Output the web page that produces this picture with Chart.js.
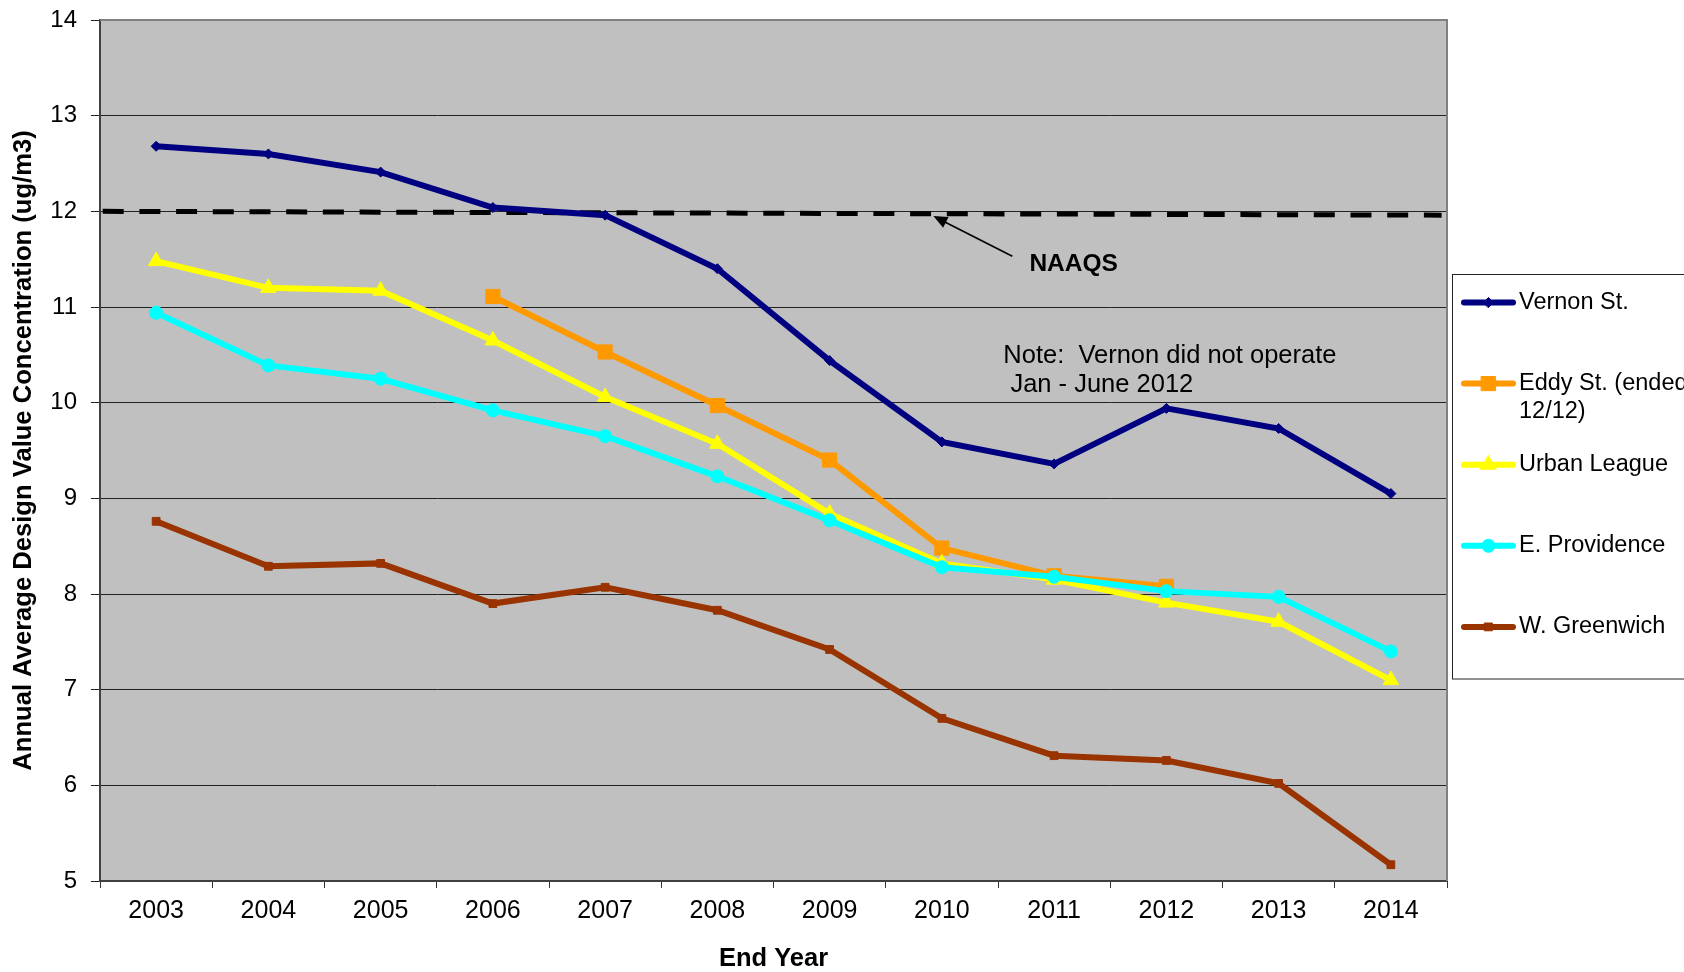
<!DOCTYPE html>
<html>
<head>
<meta charset="utf-8">
<title>Annual Average Design Value Concentration</title>
<script src="https://cdn.jsdelivr.net/npm/chart.js@4.4.1/dist/chart.umd.min.js"></script>
<style>
  html, body { margin: 0; padding: 0; background: #ffffff; }
  canvas { display: block; }
</style>
</head>
<body>
<canvas id="chart" width="1684" height="972"></canvas>
<script>
// ---- data -------------------------------------------------------------
const years = ['2003', '2004', '2005', '2006', '2007', '2008', '2009', '2010', '2011', '2012', '2013', '2014'];

const vernonSt    = [12.68, 12.60, 12.41, 12.04, 11.96, 11.40, 10.44, 9.59, 9.36, 9.94, 9.73, 9.05];
const eddySt      = [null, null, null, 11.11, 10.53, 9.97, 9.40, 8.48, 8.19, 8.08, null, null];
const urbanLeague = [11.48, 11.20, 11.17, 10.65, 10.06, 9.57, 8.84, 8.32, 8.15, 7.91, 7.71, 7.10];
const eProvidence = [10.94, 10.39, 10.25, 9.92, 9.65, 9.23, 8.77, 8.28, 8.18, 8.03, 7.97, 7.40];
const wGreenwich  = [8.76, 8.29, 8.32, 7.90, 8.07, 7.83, 7.42, 6.70, 6.31, 6.26, 6.02, 5.17];

// NAAQS standard line: level at its left and right ends
const naaqsLevels = [12.00, 11.96];

// value axis
const yMin = 5;
const yMax = 14;
const yStep = 1;

const seriesNames = ['Vernon St.', 'Eddy St. (ended 12/12)', 'Urban League', 'E. Providence', 'W. Greenwich'];

// ---- styling ----------------------------------------------------------
const FONT = "'Liberation Sans', Arial, Helvetica, sans-serif";

function series(label, data, color, pointStyle, radius, order) {
  return {
    label, data, order,
    borderColor: color,
    backgroundColor: color,
    pointBackgroundColor: color,
    pointBorderColor: color,
    pointStyle,
    pointRadius: radius,
    pointBorderWidth: 1,
    borderWidth: 6,
    tension: 0,
    fill: false,
    spanGaps: false
  };
}

const datasets = [
  series(seriesNames[0], vernonSt,    '#000080', 'rectRot',  5,   5),
  series(seriesNames[1], eddySt,      '#FF9900', 'rect',     10,  4),
  series(seriesNames[2], urbanLeague, '#FFFF00', 'triangle', 9,   3),
  series(seriesNames[3], eProvidence, '#00FFFF', 'circle',   6.5, 2),
  series(seriesNames[4], wGreenwich,  '#993300', 'rect',     5.5, 1),
  {
    label: 'NAAQS',
    data: [{ x: 0.002, y: naaqsLevels[0] }, { x: 0.996, y: naaqsLevels[1] }],
    xAxisID: 'x2',
    borderColor: '#000000',
    borderWidth: 5,
    borderDash: [21, 15.7],
    pointRadius: 0,
    tension: 0,
    fill: false,
    order: 10,
    isReference: true
  }
];

// ---- plugins ----------------------------------------------------------
const plotBackground = {
  id: 'plotBackground',
  beforeDraw(chart) {
    const { ctx, chartArea: a } = chart;
    ctx.save();
    ctx.fillStyle = '#ffffff';
    ctx.fillRect(0, 0, chart.width, chart.height);
    ctx.fillStyle = '#C0C0C0';
    ctx.fillRect(a.left, a.top, a.right - a.left, a.bottom - a.top);
    ctx.restore();
  },
  beforeDatasetsDraw(chart) {
    const { ctx, chartArea: a } = chart;
    ctx.save();
    ctx.strokeStyle = '#808080';
    ctx.lineWidth = 2;
    ctx.beginPath();
    ctx.moveTo(a.left, a.top);
    ctx.lineTo(a.right, a.top);
    ctx.lineTo(a.right, a.bottom);
    ctx.stroke();
    ctx.restore();
  }
};

// text notes and the pointer to the standard line
const notes = {
  id: 'notes',
  afterDatasetsDraw(chart) {
    const { ctx } = chart;
    const sx = chart.scales.x2, sy = chart.scales.y;
    const px = f => sx.getPixelForValue(f);
    const py = v => sy.getPixelForValue(v);
    ctx.save();

    // arrow pointing at the NAAQS line
    const tipX = px(0.6187), tipY = py(11.95);
    const tailX = px(0.6773), tailY = py(11.53);
    const ang = Math.atan2(tipY - tailY, tipX - tailX);
    const head = 14, half = 6;
    ctx.strokeStyle = '#000';
    ctx.fillStyle = '#000';
    ctx.lineWidth = 1.6;
    ctx.beginPath();
    ctx.moveTo(tailX, tailY);
    ctx.lineTo(tipX - Math.cos(ang) * head * 0.8, tipY - Math.sin(ang) * head * 0.8);
    ctx.stroke();
    ctx.beginPath();
    ctx.moveTo(tipX, tipY);
    ctx.lineTo(tipX - Math.cos(ang) * head - Math.sin(ang) * half, tipY - Math.sin(ang) * head + Math.cos(ang) * half);
    ctx.lineTo(tipX - Math.cos(ang) * head + Math.sin(ang) * half, tipY - Math.sin(ang) * head - Math.cos(ang) * half);
    ctx.closePath();
    ctx.fill();

    ctx.textBaseline = 'alphabetic';
    ctx.textAlign = 'left';
    ctx.font = 'bold 24.5px ' + FONT;
    ctx.fillText('NAAQS', px(0.69), py(11.38));

    ctx.font = '25.5px ' + FONT;
    ctx.fillText('Note:  Vernon did not operate', px(0.6706), py(10.418));
    ctx.fillText(' Jan - June 2012', px(0.6706), py(10.112));
    ctx.restore();
  }
};

// boxed legend on the right, built from the datasets
const sideLegend = {
  id: 'sideLegend',
  afterDraw(chart) {
    const { ctx } = chart;
    const boxLeft = 1452.5, boxTop = 274.5, boxBottom = 679;
    const firstY = 302.5, stepY = 81.1;
    const lineX0 = 1464, lineX1 = 1513, textX = 1519, wrapWidth = 200, lineGap = 28;
    ctx.save();
    ctx.fillStyle = '#ffffff';
    ctx.fillRect(boxLeft, boxTop, chart.width - boxLeft + 5, boxBottom - boxTop);
    ctx.strokeStyle = '#222';
    ctx.lineWidth = 1;
    ctx.strokeRect(boxLeft, boxTop, chart.width - boxLeft + 5, boxBottom - boxTop);

    ctx.font = '23.5px ' + FONT;
    ctx.textBaseline = 'middle';
    ctx.textAlign = 'left';
    let i = 0;
    chart.data.datasets.forEach(ds => {
      if (ds.isReference) return;
      const y = firstY + i * stepY;
      ctx.strokeStyle = ds.borderColor;
      ctx.lineWidth = 6;
      ctx.lineCap = 'round';
      ctx.beginPath();
      ctx.moveTo(lineX0, y);
      ctx.lineTo(lineX1, y);
      ctx.stroke();
      ctx.fillStyle = ds.pointBackgroundColor;
      ctx.strokeStyle = ds.pointBorderColor;
      ctx.lineWidth = 1;
      Chart.helpers.drawPoint(ctx, {
        pointStyle: ds.pointStyle, radius: ds.pointRadius, rotation: 0, borderWidth: 1
      }, (lineX0 + lineX1) / 2, y);

      // wrap long labels
      const words = ds.label.split(' ');
      const lines = [];
      let cur = '';
      words.forEach(w => {
        const t = cur ? cur + ' ' + w : w;
        if (cur && ctx.measureText(t).width > wrapWidth) { lines.push(cur); cur = w; }
        else cur = t;
      });
      lines.push(cur);
      ctx.fillStyle = '#000';
      lines.forEach((ln, k) => ctx.fillText(ln, textX, y + k * lineGap));
      i++;
    });
    ctx.restore();
  }
};

// ---- chart ------------------------------------------------------------
new Chart(document.getElementById('chart'), {
  type: 'line',
  data: { labels: years, datasets },
  options: {
    responsive: false,
    animation: false,
    devicePixelRatio: 1,
    layout: { padding: { top: 20, right: 237, bottom: 0, left: 0 } },
    plugins: { legend: { display: false }, tooltip: { enabled: false } },
    scales: {
      x: {
        type: 'category',
        offset: true,
        grid: { offset: true, drawOnChartArea: false, tickLength: 7, color: '#333', lineWidth: 1 },
        border: { color: '#404040', width: 2 },
        ticks: { color: '#000', font: { family: FONT, size: 25 }, padding: 8, maxRotation: 0, autoSkip: false },
        title: {
          display: true, text: 'End Year', color: '#000',
          font: { family: FONT, size: 25.5, weight: 'bold', lineHeight: 1 },
          padding: { top: 0, bottom: 0.5 }
        },
        afterFit(scale) { scale.height = 91; }
      },
      x2: { type: 'linear', display: false, min: 0, max: 1 },
      y: {
        min: yMin, max: yMax,
        grid: { color: '#222', lineWidth: 1, tickLength: 9 },
        border: { color: '#404040', width: 2 },
        ticks: { stepSize: yStep, color: '#000', font: { family: FONT, size: 24 }, padding: 14 },
        title: {
          display: true, text: 'Annual Average Design Value Concentration (ug/m3)', color: '#000',
          font: { family: FONT, size: 25.6, weight: 'bold', lineHeight: 1 },
          padding: { top: 11.5, bottom: 0 }
        },
        afterFit(scale) {
          scale.width = 100;
          scale.paddingTop = 0;
          scale.paddingBottom = 0;
        }
      }
    }
  },
  plugins: [plotBackground, notes, sideLegend]
});
</script>
</body>
</html>
